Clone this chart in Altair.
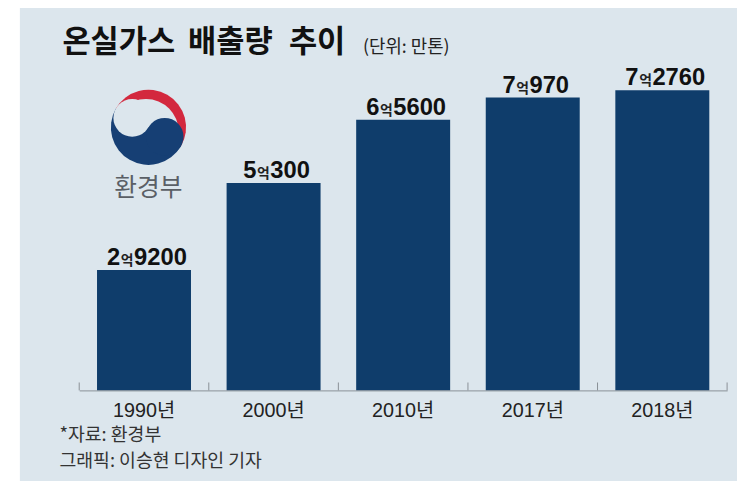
import math
import altair as alt
import pandas as pd

# ---------------- data ----------------
years = ["1990년", "2000년", "2010년", "2017년", "2018년"]
emissions = [29200, 50300, 65600, 70970, 72760]          # 만톤
label_eok = ["2", "5", "6", "7", "7"]                     # 억 part
label_rest = ["9200", "300", "5600", "970", "2760"]       # remainder

title_words = ["온실가스", "배출량", "추이"]
unit_text = "(단위: 만톤)"
logo_text = "환경부"
source_text = "*자료: 환경부"
credit_text = "그래픽: 이승현 디자인 기자"

# ---------------- style ----------------
BG = "#dce6ed"
NAVY = "#0f3d6b"
LOGO_NAVY = "#163f74"
LOGO_RED = "#d3283e"
KR = "Noto Sans CJK KR"
NUM = "Liberation Sans, Noto Sans CJK KR"

W, H = 655, 332
STEP = W / len(years)
NUM_FS = 24
DIG = 0.556 * NUM_FS
EOK_FS = 14
EOK_W = 14

rows = []
for yr, v, a, b in zip(years, emissions, label_eok, label_rest):
    total = DIG * len(a) + EOK_W + DIG * len(b)
    left = STEP / 2 - total / 2 + 3
    eok_c = left + DIG * len(a) + EOK_W / 2
    rows.append(dict(year=yr, value=v, pre=a, suf=b,
                     off_pre=eok_c - EOK_W / 2, off_eok=eok_c,
                     off_suf=eok_c + EOK_W / 2))
df = pd.DataFrame(rows)

one = pd.DataFrame([{"k": 0}])

xscale = alt.Scale(paddingInner=0, paddingOuter=0)
xaxis = alt.Axis(title=None, ticks=False, domainColor="#8a9096", domainWidth=1,
                 labelFont=NUM, labelFontSize=20, labelColor="#222222",
                 labelPadding=10, labelAngle=0, zindex=1)
xenc = alt.X("year:N", sort=years, scale=xscale, axis=xaxis)
yenc = alt.Y("value:Q", scale=alt.Scale(domain=[0, 79600], nice=False), axis=None)

# panel background
bg = alt.Chart(one).mark_rect(color=BG).encode(
    x=alt.value(-60), x2=alt.value(W + 40), y=alt.value(-70), y2=alt.value(H + 120))

# logo (taegeuk-like swirl)
cx, cy, R = 70, 66, 38
def d(deg, r):
    a = math.radians(deg)
    return cx + r * math.sin(a), cy - r * math.cos(a)

def arc(x, y, r, t0, t1, color, r2=0):
    return alt.Chart(one).mark_arc(radius=r, radius2=r2, theta=t0, theta2=t1, color=color).encode(
        x=alt.value(x), y=alt.value(y))

rad = math.radians
ox, oy = d(210, 5)
c1x, c1y = d(300, R / 2)
c2x, c2y = d(120, R / 2)
logo = [
    arc(cx, cy, R, rad(300), rad(480), LOGO_RED),
    arc(ox, oy, R - 5, 0, 2 * math.pi, BG),
    arc(cx, cy, R, rad(120), rad(300), LOGO_NAVY),
    arc(c1x, c1y, R / 2, 0, 2 * math.pi, BG),
    arc(c2x, c2y, R / 2, 0, 2 * math.pi, LOGO_NAVY),
]
logo_lbl = alt.Chart(one).mark_text(font=KR, fontSize=25, color="#5a5f66", align="center",
                                    baseline="alphabetic").encode(
    x=alt.value(cx), y=alt.value(135), text=alt.value(logo_text))

bars = alt.Chart(df).mark_bar(color=NAVY, width=alt.RelativeBandSize(95 / 131)).encode(
    x=xenc, y=yenc)

ticks0 = alt.Chart(df).mark_rule(color="#8a9096", strokeWidth=1).encode(
    x=alt.X("year:N", sort=years, bandPosition=0), y=alt.value(H), y2=alt.value(H - 8))
ticks1 = alt.Chart(df.tail(1)).mark_rule(color="#8a9096", strokeWidth=1).encode(
    x=alt.X("year:N", sort=years, bandPosition=1), y=alt.value(H), y2=alt.value(H - 8))

t_pre = alt.Chart(df).mark_text(font=NUM, fontSize=NUM_FS, fontWeight="bold", align="right",
                                baseline="alphabetic", dy=-5, color="#111111").encode(
    x=xenc, y=yenc, xOffset=alt.XOffset("off_pre:Q", scale=None), text="pre:N")
t_eok = alt.Chart(df).mark_text(font=KR, fontSize=EOK_FS, fontWeight="bold", align="center",
                                baseline="alphabetic", dy=-5, color="#222222").encode(
    x=xenc, y=yenc, xOffset=alt.XOffset("off_eok:Q", scale=None), text=alt.value("억"))
t_suf = alt.Chart(df).mark_text(font=NUM, fontSize=NUM_FS, fontWeight="bold", align="left",
                                baseline="alphabetic", dy=-5, color="#111111").encode(
    x=xenc, y=yenc, xOffset=alt.XOffset("off_suf:Q", scale=None), text="suf:N")

title_x = [-17, 110, 212]
titles = [
    alt.Chart(one).mark_text(font=KR, fontSize=31, fontWeight="bold", align="left",
                             baseline="alphabetic", color="#111111").encode(
        x=alt.value(tx), y=alt.value(-10), text=alt.value(w))
    for tx, w in zip(title_x, title_words)
]
unit = alt.Chart(one).mark_text(font=KR, fontSize=18, align="left",
                                baseline="alphabetic", color="#222222").encode(
    x=alt.value(287), y=alt.value(-9), text=alt.value(unit_text))
source = alt.Chart(one).mark_text(font=KR, fontSize=18.5, align="left",
                                  baseline="alphabetic", color="#333333").encode(
    x=alt.value(-20), y=alt.value(383), text=alt.value(source_text))
credit = alt.Chart(one).mark_text(font=KR, fontSize=18.5, align="left",
                                  baseline="alphabetic", color="#333333").encode(
    x=alt.value(-20), y=alt.value(409), text=alt.value(credit_text))

chart = alt.layer(
    bg, *logo, logo_lbl, bars, ticks0, ticks1, t_pre, t_eok, t_suf, *titles, unit, source, credit
).properties(
    width=W, height=H,
    padding={"left": 72, "top": 52, "right": 10, "bottom": 89},
    autosize=alt.AutoSizeParams(type="none"),
    background="white",
).configure_view(stroke=None)

chart.save("out.html", embed_options={"renderer": "svg", "actions": False})
